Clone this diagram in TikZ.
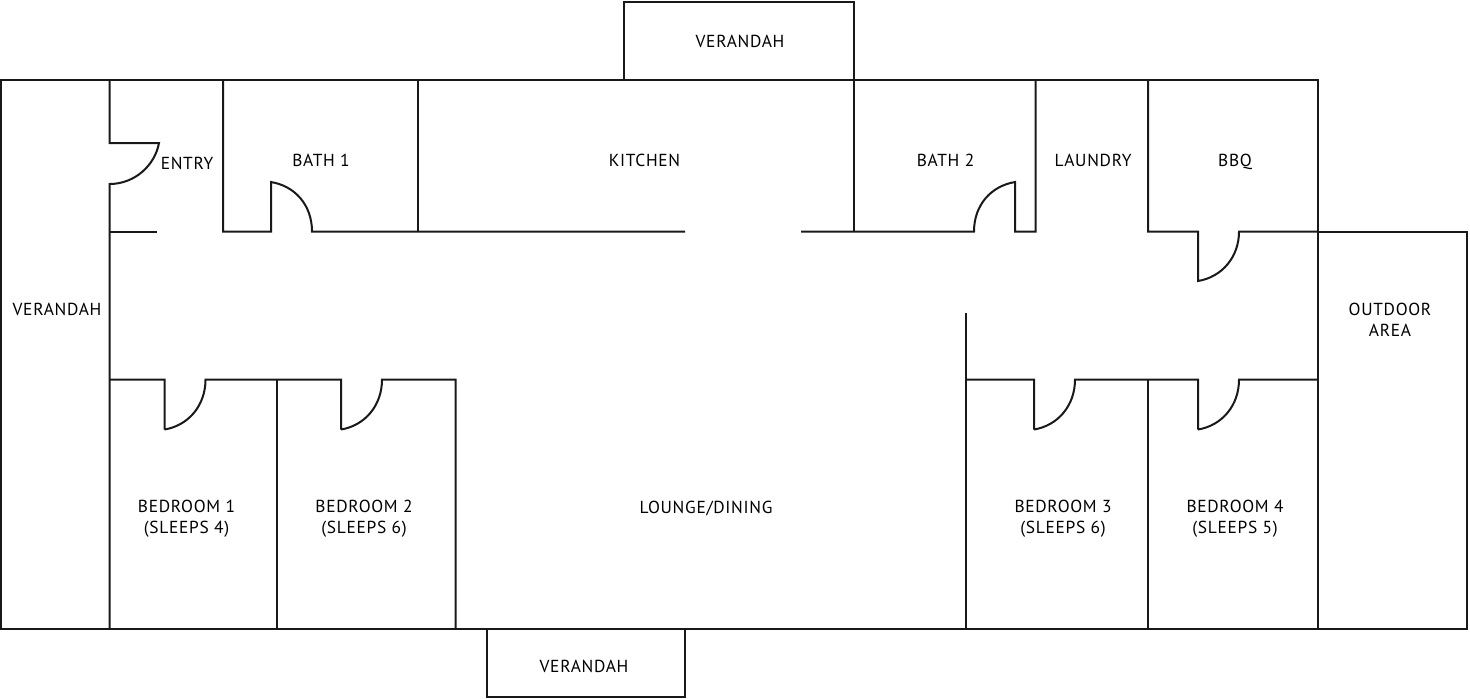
\documentclass[tikz,border=0pt]{standalone}
\usepackage{fontspec}
\setmainfont[LetterSpace=4]{PT Sans}
\usepackage{tikz}
\newcommand*\doorswing[2]{(#1,#2+50) .. controls (#1+24,#2+46) and (#1+41,#2+26) .. (#1+41,#2)}
\begin{document}
\begin{tikzpicture}[x=.5pt,y=-.5pt,
				wall/.style={draw=black!90, line width=1pt, line join=miter},
				room/.style={inner sep=0pt, align=center, font=\fontsize{8.7}{10.5}\selectfont}
				]
				\useasboundingbox (0,0) rectangle (1470,698);
				
				% outer walls and the three verandahs
				\draw[wall] (1,231.5) -- (1,80) -- (1317.5,80) -- (1317.5,629);
				\draw[wall] (1317.5,231.5) -- (1467,231.5) -- (1467,629) -- (1,629) -- (1,231.5);
				\draw[wall] (624,80) -- (624,1.5) -- (854,1.5) -- (854,80);
				\draw[wall] (486.5,629) -- (486.5,697) -- (685,697) -- (685,629);
				
				% entry
				\draw[wall] (109.5,80) -- (109.5,143) -- (159,143) .. controls (155,165) and (135,184) .. (109.5,184) -- (109.5,629);
				\draw[wall] (109.5,231.5) -- (157,231.5);
				
				% top row of rooms
				\draw[wall] (223,80) -- (223,231.5) -- (271,231.5) -- (271,182) .. controls (295,186) and (312,205) .. (312,231.5) -- (685,231.5);
				\draw[wall] (418,80) -- (418,231.5);
				\draw[wall] (854,80) -- (854,231.5);
				\draw[wall] (801,231.5) -- (974,231.5) .. controls (974,205) and (991,186) .. (1015,182) -- (1015,231.5) -- (1035.5,231.5) -- (1035.5,80);
				\draw[wall] (1148,80) -- (1148,231.5) -- (1198,231.5) -- (1198,281) .. controls (1222,277) and (1239,257) .. (1239,231.5) -- (1317.5,231.5);
				
				% bedrooms
				\draw[wall] (109.5,379.5) -- (164.5,379.5) -- (164.5,429.5) \doorswing{164.5}{379.5} -- (341,379.5) -- (341,429.5) \doorswing{341}{379.5} -- (455.5,379.5) -- (455.5,629);
				\draw[wall] (277,379.5) -- (277,629);
				\draw[wall] (966,313) -- (966,629);
				\draw[wall] (966,379.5) -- (1034,379.5) -- (1034,429.5) \doorswing{1034}{379.5} -- (1198,379.5) -- (1198,429.5) \doorswing{1198}{379.5} -- (1317.5,379.5);
				\draw[wall] (1148,379.5) -- (1148,629);
				
				\node[room] (verandahtop) at (740,41) {VERANDAH};
				\node[room] (verandahleft) at (57,309.5) {VERANDAH};
				\node[room] (verandahbottom) at (584,666) {VERANDAH};
				\node[room] (entry) at (187,163) {ENTRY};
				\node[room] (bath1) at (321,160) {BATH 1};
				\node[room] (kitchen) at (644.5,160) {KITCHEN};
				\node[room] (bath2) at (945.5,160) {BATH 2};
				\node[room] (laundry) at (1093,160) {LAUNDRY};
				\node[room] (bbq) at (1235,161.5) {BBQ};
				\node[room] (outdoor) at (1390,319.5) {OUTDOOR\\AREA};
				\node[room] (bedroom1) at (186.5,519) {BEDROOM 1\\(SLEEPS 4)};
				\node[room] (bedroom2) at (364,519) {BEDROOM 2\\(SLEEPS 6)};
				\node[room] (lounge) at (706,508.5) {LOUNGE/DINING};
				\node[room] (bedroom3) at (1063,519) {BEDROOM 3\\(SLEEPS 6)};
				\node[room] (bedroom4) at (1235,519) {BEDROOM 4\\(SLEEPS 5)};
			\end{tikzpicture}
\end{document}
